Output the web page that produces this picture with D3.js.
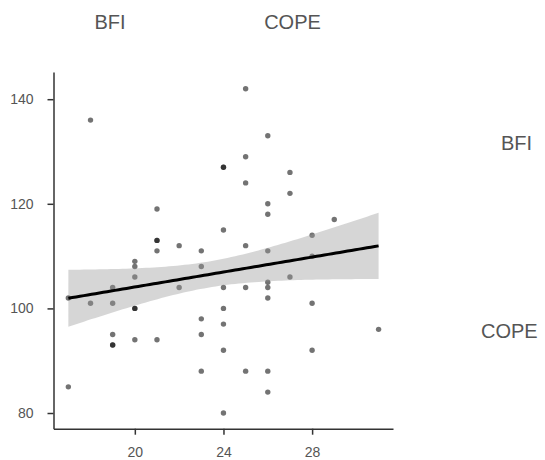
<!DOCTYPE html>
<html>
<head>
<meta charset="utf-8">
<script src="https://cdn.jsdelivr.net/npm/d3@7"></script>
<style>
  html, body { margin: 0; padding: 0; background: #fff; }
  svg { display: block; }
  text { font-family: "Liberation Sans", Arial, sans-serif; }
</style>
</head>
<body>
<svg id="chart" width="545" height="460"></svg>
<script>
// ---- data (x = COPE-like score, y = BFI-like score) ----
const xValues = [
  17, 17,
  18, 18,
  19, 19, 19, 19, 19,
  20, 20, 20, 20, 20, 20,
  21, 21, 21, 21, 21,
  22, 22,
  23, 23, 23, 23, 23,
  24, 24, 24, 24, 24, 24, 24, 24,
  25, 25, 25, 25, 25, 25,
  26, 26, 26, 26, 26, 26, 26, 26, 26,
  27, 27, 27,
  28, 28, 28, 28,
  29,
  31
];
const yValues = [
  85, 102,
  136, 101,
  104, 101, 95, 93, 93,
  109, 108, 106, 100, 100, 94,
  119, 113, 113, 111, 94,
  112, 104,
  111, 108, 98, 95, 88,
  127, 127, 115, 104, 100, 97, 92, 80,
  142, 129, 124, 112, 104, 88,
  133, 120, 118, 111, 105, 104, 102, 88, 84,
  126, 122, 106,
  114, 110, 101, 92,
  117,
  96
];
const xTicks = [20, 24, 28];
const yTicks = [80, 100, 120, 140];
const topLabels = ["BFI", "COPE"];
const sideLabels = ["BFI", "COPE"];

// ---- layout ----
const svg = d3.select("#chart");
const x = d3.scaleLinear().domain([16.33, 31.65]).range([53.5, 393]);
const y = d3.scaleLinear().domain([77.0, 145.2]).range([428.7, 72]);

const points = xValues.map((v, i) => ({ x: v, y: yValues[i] }));

// ---- linear regression with confidence band ----
const n = points.length;
const mx = d3.mean(points, d => d.x);
const my = d3.mean(points, d => d.y);
const sxx = d3.sum(points, d => (d.x - mx) ** 2);
const sxy = d3.sum(points, d => (d.x - mx) * (d.y - my));
const b1 = sxy / sxx;
const b0 = my - b1 * mx;
const sse = d3.sum(points, d => (d.y - (b0 + b1 * d.x)) ** 2);
const s = Math.sqrt(sse / (n - 2));
const tq = 1.42;
const [xmin, xmax] = d3.extent(points, d => d.x);
const grid = d3.range(0, 81).map(i => xmin + (xmax - xmin) * i / 80);
const fit = grid.map(gx => {
  const yh = b0 + b1 * gx;
  const se = s * Math.sqrt(1 / n + (gx - mx) ** 2 / sxx);
  return { x: gx, y: yh, lo: yh - tq * se, hi: yh + tq * se };
});

// ---- points ----
svg.append("g").selectAll("circle").data(points).join("circle")
  .attr("cx", d => x(d.x))
  .attr("cy", d => y(d.y))
  .attr("r", 2.7)
  .attr("fill", "#000")
  .attr("fill-opacity", 0.55);

// ---- band + line ----
svg.append("path").datum(fit)
  .attr("d", d3.area().x(d => x(d.x)).y0(d => y(d.lo)).y1(d => y(d.hi)))
  .attr("fill", "#999")
  .attr("fill-opacity", 0.4);

svg.append("path").datum(fit)
  .attr("d", d3.line().x(d => x(d.x)).y(d => y(d.y)))
  .attr("fill", "none")
  .attr("stroke", "#000")
  .attr("stroke-width", 3);

// ---- axes ----
const gx = svg.append("g").attr("transform", `translate(0,${y.range()[0]})`)
  .call(d3.axisBottom(x).tickValues(xTicks).tickSize(6).tickSizeOuter(0).tickPadding(12));
const gy = svg.append("g").attr("transform", `translate(${x.range()[0]},0)`)
  .call(d3.axisLeft(y).tickValues(yTicks).tickSize(6).tickSizeOuter(0).tickPadding(14));
[gx, gy].forEach(g => {
  g.select(".domain").attr("stroke", "#333").attr("stroke-width", 1.5);
  g.selectAll(".tick line").attr("stroke", "#333").attr("stroke-width", 1.5);
  g.selectAll(".tick text").attr("fill", "#555").attr("font-size", 14)
    .attr("font-family", "'Liberation Sans', Arial, sans-serif");
});

// ---- labels ----
svg.append("g").selectAll("text").data(topLabels).join("text")
  .attr("x", (d, i) => [110, 292.5][i])
  .attr("y", 29)
  .attr("text-anchor", "middle")
  .attr("font-size", 20)
  .attr("fill", "#555")
  .text(d => d);

svg.append("g").selectAll("text").data(sideLabels).join("text")
  .attr("x", (d, i) => [501, 481][i])
  .attr("y", (d, i) => [150, 338][i])
  .attr("font-size", 20)
  .attr("fill", "#555")
  .text(d => d);
</script>
</body>
</html>
